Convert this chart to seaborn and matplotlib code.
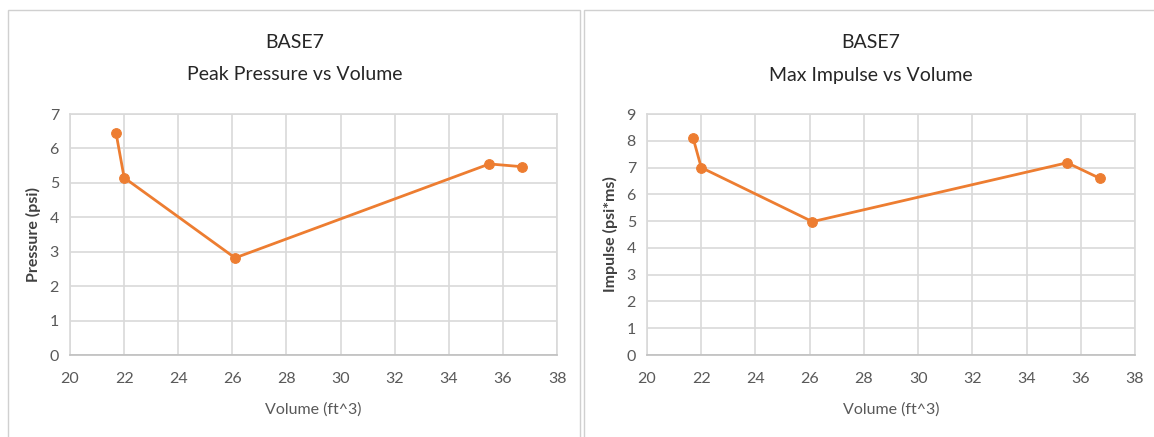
import pandas as pd
import seaborn as sns
import matplotlib
import matplotlib.pyplot as plt
from matplotlib.patches import Rectangle

matplotlib.use("Agg")

volume = [21.7, 22.0, 26.1, 35.5, 36.7]
pressure = [6.45, 5.15, 2.82, 5.55, 5.47]
impulse = [8.1, 7.0, 4.98, 7.18, 6.6]

ORANGE = "#ED7D31"
GRID = "#D9D9D9"
TEXT = "#595959"


def style_axes(ax, ymax, ylabel):
    ax.set_xlim(20, 38)
    ax.set_ylim(0, ymax)
    ax.set_xticks(range(20, 39, 2))
    ax.set_yticks(range(0, ymax + 1))
    ax.grid(True, color=GRID, linewidth=1.2)
    ax.set_axisbelow(True)
    for s in ax.spines.values():
        s.set_color(GRID)
        s.set_linewidth(1.2)
    ax.spines["bottom"].set_color("#BFBFBF")
    ax.tick_params(length=0, labelsize=11.5, colors=TEXT)
    ax.tick_params(axis="x", pad=12)
    ax.tick_params(axis="y", pad=8)
    ax.set_xlabel("Volume (ft^3)", fontsize=11.5, color=TEXT, labelpad=12)
    ax.set_ylabel(ylabel, fontsize=11.5, color="#404040", fontweight="bold", labelpad=6)


def main():
    sns.set_style("white")
    plt.rcParams["font.family"] = ["Lato", "DejaVu Sans"]
    df = pd.DataFrame({"volume": volume, "pressure": pressure, "impulse": impulse})

    fig = plt.figure(figsize=(11.54, 4.37), dpi=100)
    ax1 = fig.add_axes([0.0607, 0.1876, 0.422, 0.5515])
    ax2 = fig.add_axes([0.5607, 0.1876, 0.4228, 0.5515])

    sns.lineplot(data=df, x="volume", y="pressure", ax=ax1, color=ORANGE,
                 marker="o", markersize=7, markeredgecolor=ORANGE, linewidth=2, sort=False)
    sns.lineplot(data=df, x="volume", y="impulse", ax=ax2, color=ORANGE,
                 marker="o", markersize=7, markeredgecolor=ORANGE, linewidth=2, sort=False)

    style_axes(ax1, 7, "Pressure (psi)")
    style_axes(ax2, 9, "Impulse (psi*ms)")

    # chart titles
    for cx, name in [(295, "Peak Pressure vs Volume"), (871, "Max Impulse vs Volume")]:
        fig.text(cx / 1154, 1 - 43 / 437, "BASE7", ha="center", va="center",
                 fontsize=14, color="#262626")
        fig.text(cx / 1154, 1 - 75 / 437, name, ha="center", va="center",
                 fontsize=14, color="#262626")

    # chart frames
    fig.add_artist(Rectangle((8 / 1154, -0.01), 572 / 1154, 1 - 10 / 437 + 0.01,
                             transform=fig.transFigure, fill=False, edgecolor="#D0D0D0", linewidth=1))
    fig.add_artist(Rectangle((584 / 1154, -0.01), 580 / 1154, 1 - 10 / 437 + 0.01,
                             transform=fig.transFigure, fill=False, edgecolor="#D0D0D0", linewidth=1))

    plt.savefig("out.png", dpi=100)


if __name__ == "__main__":
    main()
